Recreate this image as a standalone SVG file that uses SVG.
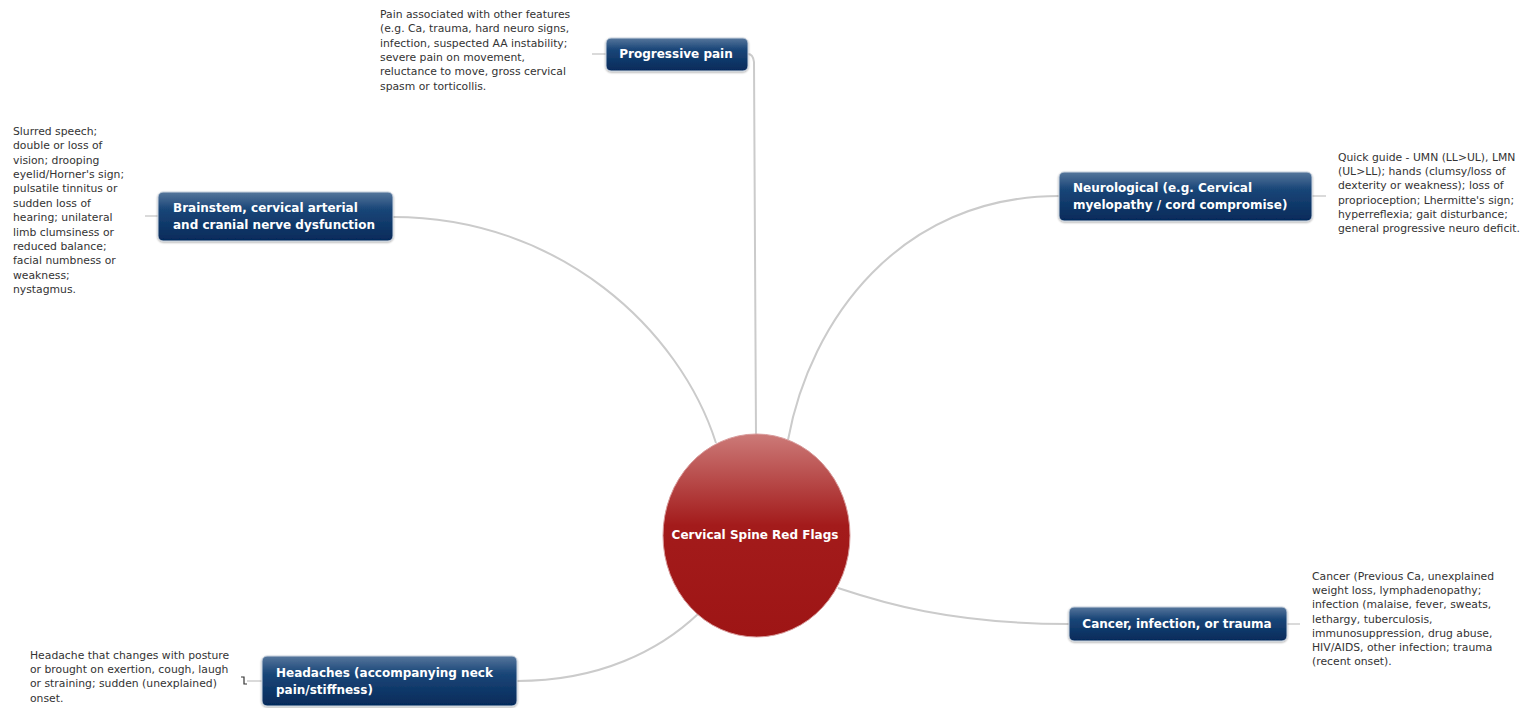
<svg xmlns="http://www.w3.org/2000/svg" width="1534" height="708" viewBox="0 0 1534 708">
<defs>
<linearGradient id="boxg" x1="0" y1="0" x2="0" y2="1">
<stop offset="0" stop-color="#56769c"/>
<stop offset="0.35" stop-color="#1a4678"/>
<stop offset="1" stop-color="#052a5a"/>
</linearGradient>
<linearGradient id="circg" x1="0" y1="0" x2="0" y2="1">
<stop offset="0" stop-color="#cc7a78"/>
<stop offset="0.45" stop-color="#a31b1b"/>
<stop offset="1" stop-color="#9e1515"/>
</linearGradient>
<filter id="sh" x="-10%" y="-20%" width="120%" height="150%">
<feGaussianBlur in="SourceAlpha" stdDeviation="1.2"/>
<feOffset dx="0" dy="1" result="b"/>
<feComponentTransfer><feFuncA type="linear" slope="0.35"/></feComponentTransfer>
<feMerge><feMergeNode/><feMergeNode in="SourceGraphic"/></feMerge>
</filter>
</defs>
<style>
.box{fill:url(#boxg);stroke:#c9d3df;stroke-width:1;filter:url(#sh)}
.lbl{font-family:"DejaVu Sans",Verdana,sans-serif;font-weight:bold;font-size:12px;fill:#ffffff}
.note{font-family:"DejaVu Sans",Verdana,sans-serif;font-size:10.8px;fill:#333333}
.con{fill:none;stroke:#cbcbcb;stroke-width:2}
.tick{fill:none;stroke:#b5b5b5;stroke-width:1}
</style>
<rect width="1534" height="708" fill="#ffffff"/>
<g id="connectors">
<path class="con" d="M756,436 C756,250 755,80 754,62 Q753,54 748,54"/>
<path class="con" d="M393,217 C560,217 680,330 716,443"/>
<path class="con" d="M1059,196 C900,196 810,320 788,440"/>
<path class="con" d="M1069,624 C950,624 880,602 838,588"/>
<path class="con" d="M517,681 C600,681 660,650 698,614"/>
<path class="tick" d="M592,54 H606"/>
<path class="tick" d="M145,216 H158"/>
<path class="tick" d="M1312,196 H1326"/>
<path class="tick" d="M1287,624 H1300"/>
<path class="tick" d="M247,681 H262"/>
<path d="M241,677 L244,677 L244,684 L247,684" fill="none" stroke="#333" stroke-width="1.2"/>
</g>
<g id="center">
<ellipse cx="756.5" cy="535.5" rx="93.5" ry="101.5" fill="url(#circg)" stroke="#d89a9a" stroke-width="1"/>
<text class="lbl" x="755" y="539" text-anchor="middle" font-size="11.5">Cervical Spine Red Flags</text>
</g>
<g id="progressive">
<rect class="box" x="606" y="38" width="142" height="33" rx="5"/>
<text class="lbl" x="676" y="58" text-anchor="middle">Progressive pain</text>
<text class="note" x="380" y="18">
<tspan x="380">Pain associated with other features</tspan>
<tspan x="380" dy="14.3">(e.g. Ca, trauma, hard neuro signs,</tspan>
<tspan x="380" dy="14.3">infection, suspected AA instability;</tspan>
<tspan x="380" dy="14.3">severe pain on movement,</tspan>
<tspan x="380" dy="14.3">reluctance to move, gross cervical</tspan>
<tspan x="380" dy="14.3">spasm or torticollis.</tspan>
</text>
</g>
<g id="brainstem">
<rect class="box" x="158" y="192" width="235" height="49" rx="5"/>
<text class="lbl" x="173" y="212">Brainstem, cervical arterial</text>
<text class="lbl" x="173" y="229">and cranial nerve dysfunction</text>
<text class="note" x="13" y="135">
<tspan x="13">Slurred speech;</tspan>
<tspan x="13" dy="14.36">double or loss of</tspan>
<tspan x="13" dy="14.36">vision; drooping</tspan>
<tspan x="13" dy="14.36">eyelid/Horner's sign;</tspan>
<tspan x="13" dy="14.36">pulsatile tinnitus or</tspan>
<tspan x="13" dy="14.36">sudden loss of</tspan>
<tspan x="13" dy="14.36">hearing; unilateral</tspan>
<tspan x="13" dy="14.36">limb clumsiness or</tspan>
<tspan x="13" dy="14.36">reduced balance;</tspan>
<tspan x="13" dy="14.36">facial numbness or</tspan>
<tspan x="13" dy="14.36">weakness;</tspan>
<tspan x="13" dy="14.36">nystagmus.</tspan>
</text>
</g>
<g id="neurological">
<rect class="box" x="1059" y="172" width="253" height="49" rx="5"/>
<text class="lbl" x="1073" y="192">Neurological (e.g. Cervical</text>
<text class="lbl" x="1073" y="209">myelopathy / cord compromise)</text>
<text class="note" x="1338" y="161">
<tspan x="1338">Quick guide - UMN (LL&gt;UL), LMN</tspan>
<tspan x="1338" dy="14.2">(UL&gt;LL); hands (clumsy/loss of</tspan>
<tspan x="1338" dy="14.2">dexterity or weakness); loss of</tspan>
<tspan x="1338" dy="14.2">proprioception; Lhermitte's sign;</tspan>
<tspan x="1338" dy="14.2">hyperreflexia; gait disturbance;</tspan>
<tspan x="1338" dy="14.2">general progressive neuro deficit.</tspan>
</text>
</g>
<g id="cancer">
<rect class="box" x="1069" y="607" width="218" height="34" rx="5"/>
<text class="lbl" x="1177" y="628" text-anchor="middle">Cancer, infection, or trauma</text>
<text class="note" x="1312" y="580">
<tspan x="1312">Cancer (Previous Ca, unexplained</tspan>
<tspan x="1312" dy="14.2">weight loss, lymphadenopathy;</tspan>
<tspan x="1312" dy="14.2">infection (malaise, fever, sweats,</tspan>
<tspan x="1312" dy="14.2">lethargy, tuberculosis,</tspan>
<tspan x="1312" dy="14.2">immunosuppression, drug abuse,</tspan>
<tspan x="1312" dy="14.2">HIV/AIDS, other infection; trauma</tspan>
<tspan x="1312" dy="14.2">(recent onset).</tspan>
</text>
</g>
<g id="headaches">
<rect class="box" x="262" y="656" width="255" height="50" rx="5"/>
<text class="lbl" x="276" y="677">Headaches (accompanying neck</text>
<text class="lbl" x="276" y="694">pain/stiffness)</text>
<text class="note" x="30" y="659">
<tspan x="30">Headache that changes with posture</tspan>
<tspan x="30" dy="14.2">or brought on exertion, cough, laugh</tspan>
<tspan x="30" dy="14.2">or straining; sudden (unexplained)</tspan>
<tspan x="30" dy="14.2">onset.</tspan>
</text>
</g>
</svg>
